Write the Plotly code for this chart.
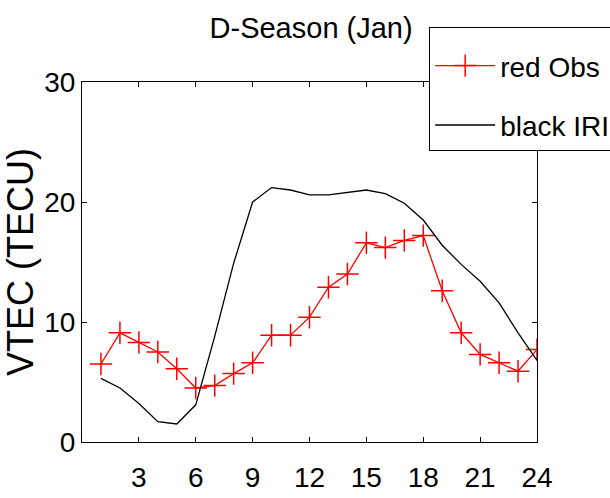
import plotly.graph_objects as go

# Local time (hours) and vertical TEC values (TECU)
hours = list(range(1, 25))
obs_vtec = [6.5, 9.1, 8.3, 7.5, 6.1, 4.5, 4.7, 5.7, 6.6, 8.9, 8.9, 10.4,
            12.9, 14.0, 16.6, 16.2, 16.8, 17.2, 12.6, 9.1, 7.3, 6.6, 5.9, 7.7]
iri_vtec = [5.3, 4.5, 3.2, 1.7, 1.5, 3.1, 8.8, 14.9, 20.0, 21.2, 21.0, 20.6,
            20.6, 20.8, 21.0, 20.7, 19.9, 18.5, 16.4, 14.8, 13.4, 11.6, 9.1, 6.8]
x_ticks = [3, 6, 9, 12, 15, 18, 21, 24]
y_ticks = [0, 10, 20, 30]

font_family = "Liberation Sans, Arial, sans-serif"

fig = go.Figure()
fig.add_trace(go.Scatter(
    x=hours, y=obs_vtec, mode="lines+markers", name="red Obs",
    legendgroup="obs",
    line=dict(color="#ff0000", width=1.3),
    marker=dict(symbol="cross-thin-open", size=16,
                line=dict(color="#ff0000", width=1.5)),
))
fig.add_trace(go.Scatter(
    x=hours, y=iri_vtec, mode="lines", name="black IRI",
    legendgroup="iri",
    line=dict(color="black", width=1.3),
))

axis_common = dict(
    showline=True, linecolor="black", linewidth=1, mirror="ticks",
    ticks="inside", ticklen=5, tickcolor="black", tickwidth=1,
    showgrid=False, zeroline=False,
    tickfont=dict(family=font_family, size=28, color="black"),
)

fig.update_xaxes(range=[0, 24], tickvals=x_ticks, ticklabelstandoff=10,
                 **axis_common)
fig.update_yaxes(range=[0, 30], tickvals=y_ticks, ticklabelstandoff=0,
                 title=dict(text="VTEC (TECU)", standoff=6,
                            font=dict(family=font_family, size=36, color="black")),
                 **axis_common)

fig.update_layout(
    width=610, height=498,
    margin=dict(l=82, r=73, t=82, b=56, autoexpand=False),
    paper_bgcolor="white", plot_bgcolor="white",
    title=dict(text="D-Season (Jan)", x=0.51, xanchor="center",
               y=0.944, yanchor="middle",
               font=dict(family=font_family, size=29, color="black")),
    legend=dict(
        x=0.763, y=1.153, xanchor="left", yanchor="top",
        bgcolor="white", bordercolor="black", borderwidth=1,
        font=dict(family=font_family, size=28, color="black"),
        title=dict(text=" ", font=dict(size=10)),
        tracegroupgap=20, itemwidth=60,
    ),
    showlegend=True,
)

fig.write_html("out.html")
